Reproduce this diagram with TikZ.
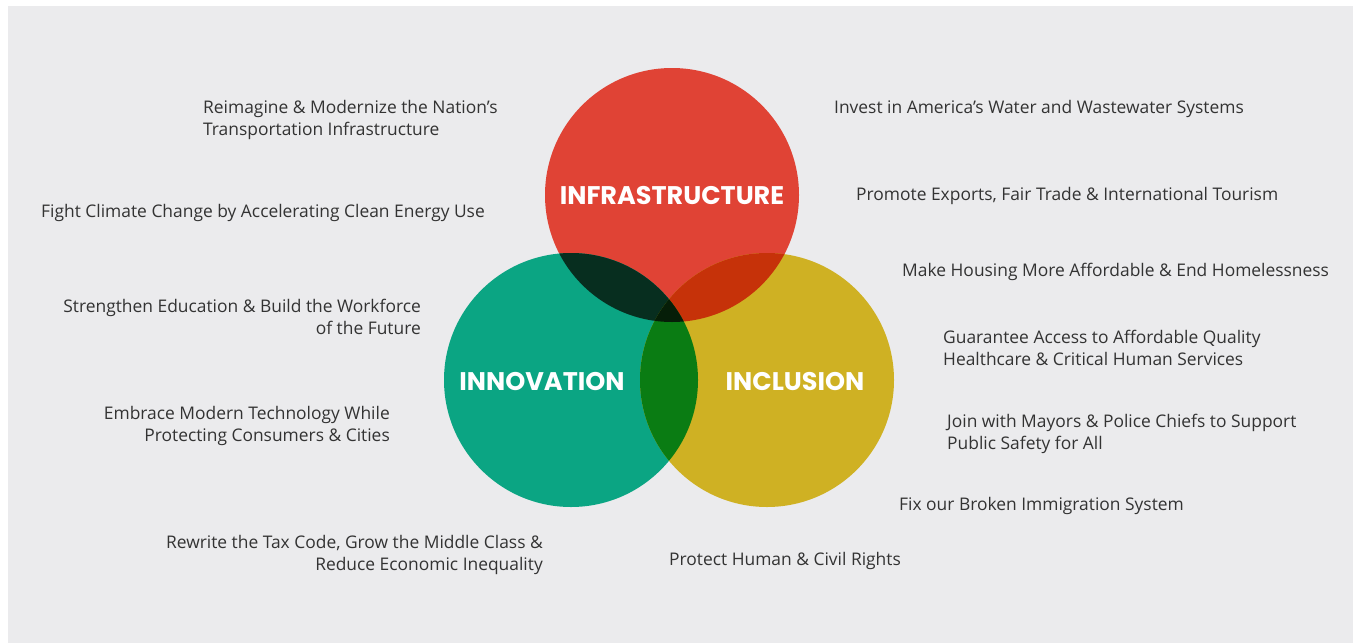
\documentclass[tikz,border=0pt]{standalone}
\usepackage{fontspec}
\setmainfont{Open Sans}
\newfontfamily\labfont{Poppins}
\definecolor{bg}{HTML}{EBEBED}
\definecolor{txt}{HTML}{333333}
\definecolor{cred}{HTML}{E04335}
\definecolor{cteal}{HTML}{0BA583}
\definecolor{cyel}{HTML}{CFB123}
\definecolor{crt}{HTML}{072E1F}
\definecolor{cry}{HTML}{C63209}
\definecolor{cty}{HTML}{0A7C13}
\definecolor{call}{HTML}{061E08}
\tikzset{
  item/.style={inner sep=0pt, text=txt, font=\fontsize{17.4}{22}\selectfont},
  itemL/.style={item, anchor=west, align=left},
  itemR/.style={item, anchor=east, align=right},
  lab/.style={inner sep=0pt, text=white, font=\labfont\bfseries\fontsize{25.5}{27}\selectfont}
}
\begin{document}
\begin{tikzpicture}[x=1pt,y=-1pt]
\useasboundingbox (0,0) rectangle (1353,643);
\fill[white] (0,0) rectangle (1353,643);
\fill[bg] (8,6) rectangle (1353,643);
\def\rr{127}
\coordinate (cR) at (672,195);
\coordinate (cT) at (571,380);
\coordinate (cY) at (767,380);
\fill[cred] (cR) circle (\rr);
\fill[cteal] (cT) circle (\rr);
\fill[cyel] (cY) circle (\rr);
\begin{scope}
  \clip (cR) circle (\rr);
  \fill[crt] (cT) circle (\rr);
  \fill[cry] (cY) circle (\rr);
\end{scope}
\begin{scope}
  \clip (cT) circle (\rr);
  \fill[cty] (cY) circle (\rr);
  \clip (cY) circle (\rr);
  \fill[call] (cR) circle (\rr);
\end{scope}
\node[lab] (infra) at (672,196) {INFRASTRUCTURE};
\node[lab] (innov) at (542,382) {INNOVATION};
\node[lab] (incl) at (795,382) {INCLUSION};
% left side
\node[itemL] (t1) at (203,120) {Reimagine \& Modernize the Nation’s\\Transportation Infrastructure};
\node[itemL] (t2) at (41,213) {Fight Climate Change by Accelerating Clean Energy Use};
\node[itemR] (t3) at (421,317) {Strengthen Education \& Build the Workforce\\of the Future};
\node[itemR] (t4) at (390,426) {Embrace Modern Technology While\\Protecting Consumers \& Cities};
\node[itemR] (t5) at (543,555) {Rewrite the Tax Code, Grow the Middle Class \&\\Reduce Economic Inequality};
\node[itemL] (t6) at (669,561) {Protect Human \& Civil Rights};
% right side
\node[itemL] (t7) at (834,109) {Invest in America’s Water and Wastewater Systems};
\node[itemL] (t8) at (856,196) {Promote Exports, Fair Trade \& International Tourism};
\node[itemL] (t9) at (902,272) {Make Housing More Affordable \& End Homelessness};
\node[itemL] (t10) at (943,348) {Guarantee Access to Affordable Quality\\Healthcare \& Critical Human Services};
\node[itemL] (t11) at (947,434) {Join with Mayors \& Police Chiefs to Support\\Public Safety for All};
\node[itemL] (t12) at (899,506) {Fix our Broken Immigration System};
\end{tikzpicture}
\end{document}
